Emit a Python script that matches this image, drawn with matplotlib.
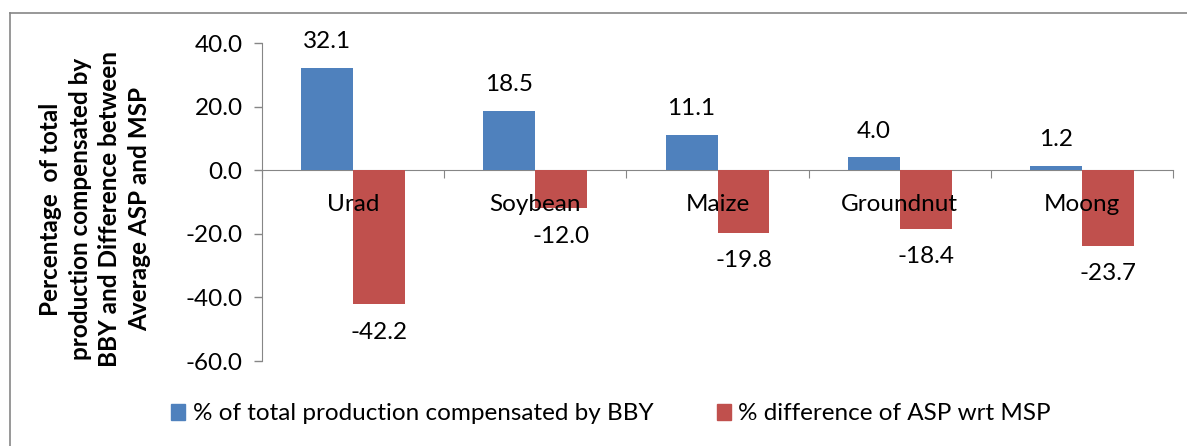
import numpy as np
import matplotlib.pyplot as plt
from matplotlib.lines import Line2D

crops = ['Urad', 'Soybean', 'Maize', 'Groundnut', 'Moong']
bby_pct = [32.1, 18.5, 11.1, 4.0, 1.2]
asp_diff = [-42.2, -12.0, -19.8, -18.4, -23.7]
yticks = [40, 20, 0, -20, -40, -60]

blue = '#4F81BD'
red = '#C0504D'
axis_gray = '#868686'
fs = 17.5

plt.rcParams['font.family'] = ['Lato', 'DejaVu Sans']

fig = plt.figure(figsize=(11.87, 4.46), dpi=100)
ax = fig.add_axes([262 / 1187, 1 - 361 / 446, (1173 - 262) / 1187, (361 - 43) / 446])

x = np.arange(len(crops))
w = 0.285
b1 = ax.bar(x - w / 2, bby_pct, w, color=blue, label='% of total production compensated by BBY')
b2 = ax.bar(x + w / 2, asp_diff, w, color=red, label='% difference of ASP wrt MSP')

ax.set_xlim(-0.5, len(crops) - 0.5)
ax.set_ylim(-60, 40)
ax.set_yticks(yticks)
ax.set_yticklabels([f'{v:.1f}' for v in yticks], fontsize=fs)
ax.tick_params(axis='y', length=6, width=1, color=axis_gray, pad=8)

for s in ['top', 'right']:
    ax.spines[s].set_visible(False)
ax.spines['left'].set_color(axis_gray)
ax.spines['bottom'].set_color(axis_gray)
ax.spines['bottom'].set_position(('data', 0))
ax.spines['bottom'].set_zorder(0.5)

# tick marks at category boundaries, labels drawn as text
ax.set_xticks(np.arange(len(crops) + 1) - 0.5)
ax.set_xticklabels([])
ax.tick_params(axis='x', direction='out', length=6, color=axis_gray)
for i, c in enumerate(crops):
    ax.annotate(c, (i, 0), xytext=(0, -25), textcoords='offset points',
                ha='center', va='center', fontsize=fs)

for i, v in enumerate(bby_pct):
    ax.annotate(f'{v:.1f}', (i - w / 2, v), xytext=(0, 19), textcoords='offset points',
                ha='center', va='center', fontsize=fs)
for i, v in enumerate(asp_diff):
    ax.annotate(f'{v:.1f}', (i + w / 2, v), xytext=(0, -20), textcoords='offset points',
                ha='center', va='center', fontsize=fs)

fig.text(95 / 1187, 1 - 209 / 446,
         'Percentage  of total\nproduction compensated by\nBBY and Difference between\nAverage ASP and MSP',
         rotation=90, ha='center', va='center', fontsize=17.5, fontweight='bold',
         linespacing=1.35, multialignment='center')

handles = [plt.Rectangle((0, 0), 1, 1, color=blue), plt.Rectangle((0, 0), 1, 1, color=red)]
fig.legend(handles, [b1.get_label(), b2.get_label()], loc='center',
           bbox_to_anchor=(611 / 1187, 1 - 414 / 446), ncol=2, frameon=False,
           fontsize=fs, handlelength=0.6, handleheight=0.6, handletextpad=0.3,
           columnspacing=2.6, borderpad=0)

# outer chart border (only top and left edges visible in the crop)
fig.add_artist(Line2D([10 / 1187, 10 / 1187], [0, 1 - 13 / 446], color=axis_gray, lw=1.2,
                      transform=fig.transFigure))
fig.add_artist(Line2D([10 / 1187, 1], [1 - 13 / 446, 1 - 13 / 446], color=axis_gray, lw=1.2,
                      transform=fig.transFigure))

fig.savefig('out.png', dpi=100)
